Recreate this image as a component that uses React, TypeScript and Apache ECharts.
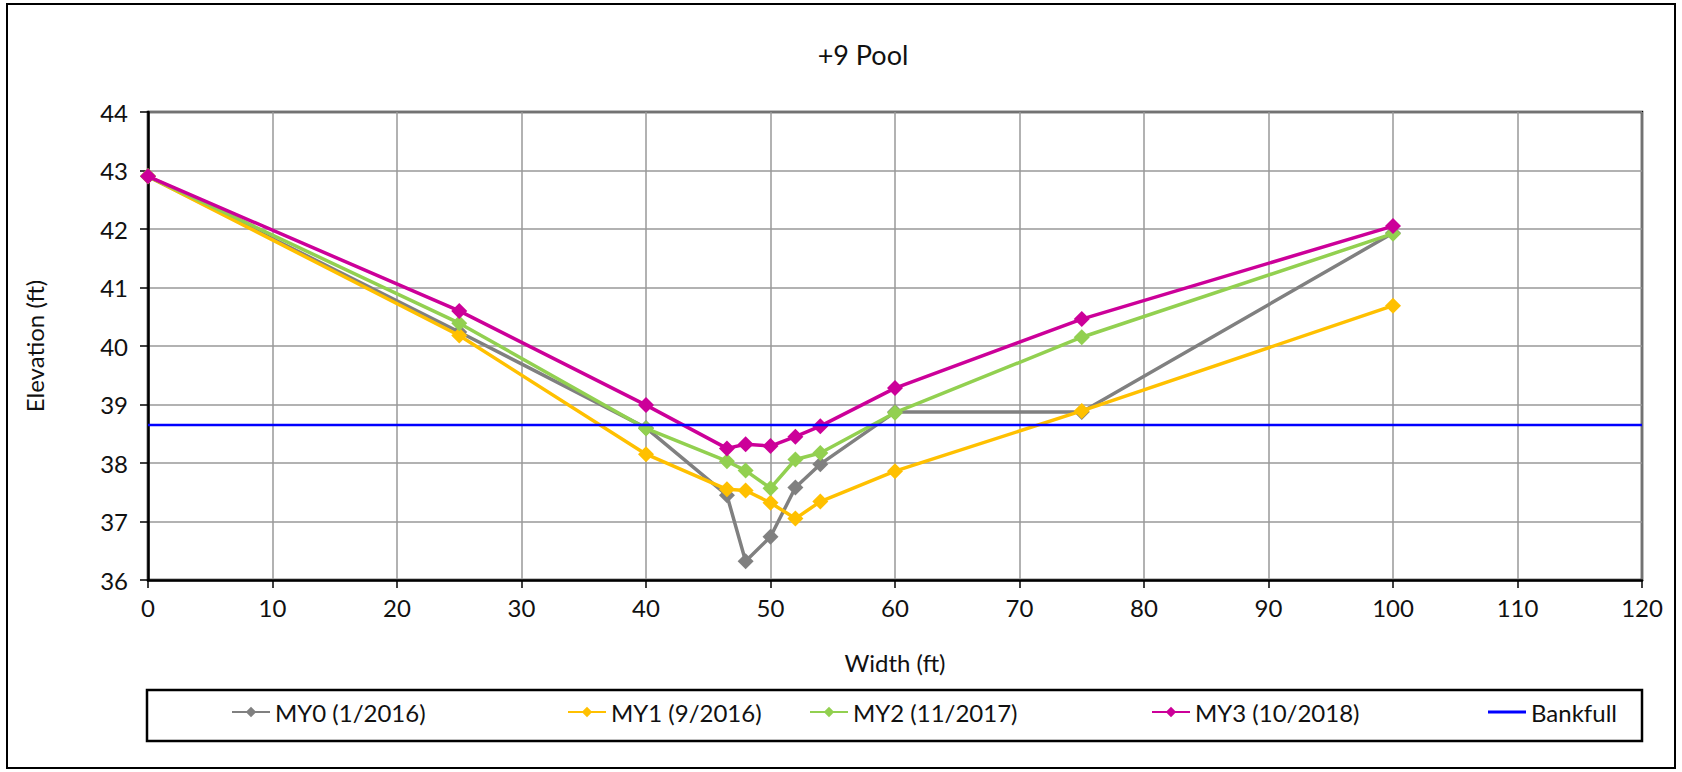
import React, { useEffect, useRef } from "react";
import * as echarts from "echarts";

const widths = [0, 25, 40, 46.5, 48, 50, 52, 54, 60, 75, 100];
const my0 = [42.9, 40.24, 38.6, 37.45, 36.32, 36.74, 37.58, 37.98, 38.87, 38.87, 41.93];
const my1 = [42.9, 40.18, 38.15, 37.55, 37.53, 37.32, 37.05, 37.34, 37.86, 38.89, 40.69];
const my2 = [42.9, 40.39, 38.59, 38.03, 37.87, 37.57, 38.06, 38.17, 38.86, 40.15, 41.92];
const my3 = [42.9, 40.6, 38.99, 38.25, 38.32, 38.29, 38.45, 38.63, 39.28, 40.46, 42.05];
const bankfullX = [0, 120];
const bankfullY = [38.65, 38.65];

const seriesNames = ["MY0 (1/2016)", "MY1 (9/2016)", "MY2 (11/2017)", "MY3 (10/2018)", "Bankfull"];
const seriesColors = ["#808080", "#FFC000", "#92D050", "#CC0099", "#0000FF"];
const legendLefts = [231, 567, 809, 1151, 1488];

const FONT = "Lato, 'Open Sans', sans-serif";
const TXT = "#111";

export default function App() {
  const ref = useRef<HTMLDivElement>(null);
  useEffect(() => {
    if (!ref.current) return;
    const chart = echarts.init(ref.current, undefined, { renderer: "svg" });
    const values = [my0, my1, my2, my3];
    const lineSeries = values.map((v, i) => ({
      name: seriesNames[i],
      type: "line",
      data: widths.map((w, j) => [w, v[j]]),
      symbol: "diamond",
      symbolSize: 16,
      itemStyle: { color: seriesColors[i] },
      lineStyle: { color: seriesColors[i], width: 3.5 },
      z: 2 + i,
    }));
    const bank = {
      name: seriesNames[4],
      type: "line",
      data: bankfullX.map((x, j) => [x, bankfullY[j]]),
      symbol: "none",
      itemStyle: { color: seriesColors[4] },
      lineStyle: { color: seriesColors[4], width: 2.5 },
      z: 10,
    };
    chart.setOption({
      animation: false,
      backgroundColor: "#fff",
      textStyle: { fontFamily: FONT },
      title: {
        text: "+9 Pool",
        left: 858,
        top: 36,
        textAlign: "center",
        textStyle: { fontFamily: FONT, fontSize: 27, fontWeight: "normal", color: TXT },
      },
      graphic: [
        {
          type: "rect",
          shape: { x: 7, y: 4, width: 1668, height: 764 },
          style: { fill: "none", stroke: "#000", lineWidth: 2 },
          silent: true,
        },
        {
          type: "rect",
          shape: { x: 147, y: 690, width: 1495, height: 51 },
          style: { fill: "none", stroke: "#000", lineWidth: 2.5 },
          silent: true,
        },
      ],
      legend: seriesNames.map((n, i) => ({
        data: i === 4 ? [{ name: n, icon: "rect" }] : [n],
        left: legendLefts[i],
        top: 700,
        padding: 0,
        itemWidth: 38,
        itemHeight: i === 4 ? 3 : 13,
        itemGap: 8,
        textStyle: { fontFamily: FONT, fontSize: 24, color: TXT },
      })),
      grid: {
        left: 148,
        right: 40,
        top: 112,
        bottom: 192,
        show: true,
        borderColor: "#000",
        borderWidth: 2.5,
      },
      xAxis: {
        type: "value",
        min: 0,
        max: 120,
        interval: 10,
        name: "Width (ft)",
        nameLocation: "middle",
        nameGap: 70,
        nameTextStyle: { fontFamily: FONT, fontSize: 24, color: TXT },
        axisLine: { show: true, lineStyle: { color: "#000", width: 2.5 } },
        axisTick: { show: true, length: 8, lineStyle: { color: "#000", width: 1.5 } },
        axisLabel: { margin: 15, fontFamily: FONT, fontSize: 24, color: TXT },
        splitLine: { show: true, lineStyle: { color: "#999", width: 1.5 } },
      },
      yAxis: {
        type: "value",
        min: 36,
        max: 44,
        interval: 1,
        name: "Elevation (ft)",
        nameLocation: "middle",
        nameGap: 102,
        nameTextStyle: { fontFamily: FONT, fontSize: 24, color: TXT },
        axisLine: { show: true, lineStyle: { color: "#000", width: 2.5 } },
        axisTick: { show: true, length: 8, lineStyle: { color: "#000", width: 1.5 } },
        axisLabel: { margin: 20, fontFamily: FONT, fontSize: 24, color: TXT },
        splitLine: { show: true, lineStyle: { color: "#999", width: 1.5 } },
      },
      series: [...lineSeries, bank],
    });
    return () => chart.dispose();
  }, []);
  return (
    <div
      ref={ref}
      style={{ position: "fixed", left: 0, top: 0, width: 1682, height: 772, background: "#fff" }}
    />
  );
}
